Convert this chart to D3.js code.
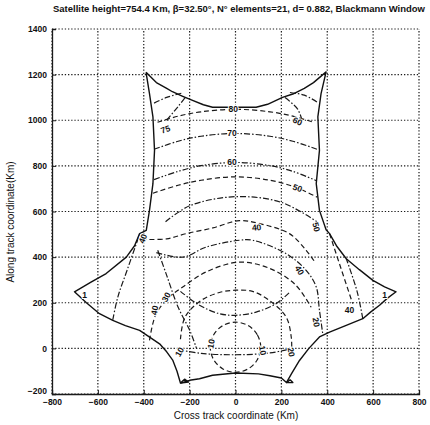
<!DOCTYPE html>
<html><head><meta charset="utf-8">
<script src="https://cdn.jsdelivr.net/npm/d3@7"></script>
<style>body{margin:0;background:#fff}svg{display:block}text{font-family:"Liberation Sans",Arial,sans-serif;fill:#111}</style>
</head><body><svg id="c" width="430" height="425"></svg>
<script>
const title = "Satellite height=754.4 Km, \u03b2=32.50\u00b0, N\u00b0 elements=21, d= 0.882, Blackmann Window";
const xLabel = "Cross track coordinate (Km)";
const yLabel = "Along track coordinate(Km)";
const xTicks = [-800,-600,-400,-200,0,200,400,600,800];
const yTicks = [-200,0,200,400,600,800,1000,1200,1400];

// coverage boundary (solid)
const boundary = [[-390,1210],[-345,1165],[-300,1140],[-275,1125],[-230,1105],[-190,1088],[-140,1068],[-100,1057],[0,1057],[90,1057],[140,1070],[205,1100],[250,1115],[300,1140],[340,1165],[395,1212],
[373,1117],[359,1015],[366,868],[352,722],[366,605],[395,520],[410,503],[440,450],[483,393],[540,345],[599,298],[650,270],[700,248],
[660,218],[628,189],[590,160],[555,130],[480,100],[410,71],[366,50],[320,0],[279,-53],[245,-110],[222,-150],
[200,-130],[150,-120],[100,-112],[0,-108],[-100,-118],[-157,-133],[-200,-140],[-240,-152],
[-255,-100],[-273,-53],[-300,-15],[-331,20],[-418,79],[-480,100],[-535,123],[-593,152],[-650,200],[-702,248],
[-630,290],[-564,328],[-476,400],[-440,450],[-418,503],[-389,517],[-375,605],[-360,722],[-353,868],[-360,1015],[-375,1117],[-390,1210]];
const tipBL = [[-240,-152],[-222,-135],[-205,-148],[-240,-152]];
const tipBR = [[222,-150],[238,-138],[250,-150],[222,-150]];

// contour lines
const c80 = [[-340,991],[-250,1018],[-150,1037],[0,1048],[150,1037],[250,1018],[340,991]];
const c70 = [[-355,873],[-250,908],[-150,930],[0,942],[150,930],[250,908],[355,873]];
const c60 = [[-355,740],[-250,776],[-150,801],[0,815],[150,801],[250,776],[355,734]];
const c50 = [[-360,680],[-250,715],[-150,737],[0,752],[150,737],[270,703],[355,663]];
const c45 = [[-305,555],[-200,625],[0,665],[200,640],[355,555]];
const c40 = [[-410,478],[-300,480],[-215,503],[-99,528],[17,560],[105,547],[235,503],[308,430],[345,380]];
const c35 = [[-345,420],[-230,400],[-128,444],[17,474],[75,474],[221,415],[308,342],[352,269],[366,167],[380,66]];
const c30 = [[-375,35],[-346,152],[-288,225],[-230,269],[-128,335],[17,378],[150,350],[260,280],[330,180]];
const c20 = [[-240,40],[-220,137],[-150,210],[-70,245],[0,255],[74,250],[148,210],[221,137],[243,50],[245,-10]];
const c15 = [[-240,250],[-157,189],[-70,152],[0,145],[90,159],[177,196],[240,250]];
const c10 = [[110,5],[95,60],[55,100],[0,115],[-55,100],[-95,60],[-110,5],[-95,-50],[-55,-90],[0,-105],[55,-90],[95,-50],[110,5]];
const c05 = [[-250,-5],[-150,-22],[0,-28],[150,-20],[250,0]];
const cTL1 = [[-355,1075],[-300,1100],[-230,1120]];
const cTL2 = [[-300,1000],[-252,1058],[-215,1105]];
const cTR1 = [[355,1080],[300,1110],[235,1122]];
const cTR2 = [[290,1000],[270,1050],[215,1100]];
const cL1 = [[-535,125],[-513,225],[-470,350],[-418,500]];
const cL2 = [[-339,430],[-300,320],[-250,180],[-200,80],[-170,0]];
const cR1 = [[555,130],[530,250],[483,393]];
const cR2 = [[410,503],[460,350],[511,196]];
const DASH = "5,3", DDOT = "6,2,1.5,2", DDD = "6,2,1.5,2,1.5,2";
const contours = [
  {pts:c80, dash:DASH},{pts:c70, dash:DDOT},{pts:c60, dash:DDD},
  {pts:c50, dash:DASH},{pts:c45, dash:DDOT},{pts:c40, dash:DASH},
  {pts:c35, dash:DDOT},{pts:c30, dash:DASH},{pts:c20, dash:DASH},
  {pts:c15, dash:DDOT},{pts:c10, dash:DASH, closed:true},{pts:c05, dash:DDOT},
  {pts:cTL1, dash:DDOT},{pts:cTL2, dash:DDOT},{pts:cTR1, dash:DDOT},{pts:cTR2, dash:DDOT},
  {pts:cL1, dash:DDOT},{pts:cL2, dash:DDOT},{pts:cR1, dash:DDOT},{pts:cR2, dash:DASH}
];
// contour labels: text, x, y, rotation
const labels = [["80",-10,1050,0],["75",-305,960,-20],["60",270,995,25],["70",-15,942,0],["60",-15,815,0],
["50",270,703,20],["40",92,530,-5],["40",-404,481,-70],["50",352,532,75],["30",-302,225,-60],["40",-353,167,-80],
["40",279,342,60],["20",352,115,80],["40",497,167,0],["1",650,232,0],["1",-658,232,0],["10",-106,20,-80],["10",119,-9,80],
["20",243,-16,80],["10",-244,-16,-60]];

const x = d3.scaleLinear().domain([-800,800]).range([52,419]);
const y = d3.scaleLinear().domain([-200,1400]).range([394,29]);
const svg = d3.select("#c");
const INK = "#1a1a1a";

// grid
const g = svg.append("g");
g.selectAll("line.gx").data(xTicks).join("line").attr("x1",d=>x(d)).attr("x2",d=>x(d)).attr("y1",y(-200)).attr("y2",y(1400))
 .attr("stroke",INK).attr("stroke-width",1.2).attr("stroke-dasharray","1.3,1.9");
g.selectAll("line.gy").data(yTicks).join("line").attr("y1",d=>y(d)).attr("y2",d=>y(d)).attr("x1",x(-800)).attr("x2",x(800))
 .attr("stroke",INK).attr("stroke-width",1.2).attr("stroke-dasharray","1.3,1.9");

// axes
const ax = svg.append("g").attr("transform",`translate(0,${y(-200)})`)
 .call(d3.axisBottom(x).tickValues(xTicks).tickSize(-4).tickPadding(5).tickFormat(d3.format("d")));
const ay = svg.append("g").attr("transform",`translate(${x(-800)},0)`)
 .call(d3.axisLeft(y).tickValues(yTicks).tickSize(-4).tickPadding(5).tickFormat(d3.format("d")));
[ax,ay].forEach(a=>{a.select(".domain").attr("stroke",INK).attr("stroke-width",1.3);
 a.selectAll(".tick line").attr("stroke",INK);
 a.selectAll("text").style("font-size","8.5px").style("font-weight","bold").style("font-family","Liberation Sans, Arial, sans-serif").attr("fill",INK);});
ay.select(".tick:first-of-type text").attr("dy","-0.1em");

// contour lines
const line = d3.line().x(d=>x(d[0])).y(d=>y(d[1])).curve(d3.curveCatmullRom);
const lineClosed = d3.line().x(d=>x(d[0])).y(d=>y(d[1])).curve(d3.curveCatmullRomClosed);
svg.append("g").selectAll("path").data(contours).join("path")
 .attr("d",d=>d.closed?lineClosed(d.pts.slice(0,-1)):line(d.pts))
 .attr("fill","none").attr("stroke",INK).attr("stroke-width",1.2).attr("stroke-dasharray",d=>d.dash);

// boundary
const lin = d3.line().x(d=>x(d[0])).y(d=>y(d[1]));
svg.append("g").selectAll("path").data([boundary,tipBL,tipBR]).join("path").attr("d",lin)
 .attr("fill","none").attr("stroke","#111").attr("stroke-width",1.4).attr("stroke-linejoin","round");

// labels
svg.append("g").selectAll("text").data(labels).join("text")
 .attr("transform",d=>`translate(${x(d[1])},${y(d[2])}) rotate(${d[3]})`)
 .attr("text-anchor","middle").attr("dy","0.35em")
 .style("font-size","8.5px").style("font-weight","bold")
 .attr("stroke","#fff").attr("stroke-width",2).attr("paint-order","stroke")
 .text(d=>d[0]);

// title and axis labels
svg.append("text").attr("x",53).attr("y",12).attr("textLength",372).attr("lengthAdjust","spacingAndGlyphs")
 .style("font-size","9.5px").style("font-weight","bold").text(title);
svg.append("text").attr("x",236).attr("y",419).attr("text-anchor","middle").style("font-size","10px").text(xLabel);
svg.append("text").attr("transform","translate(14,222) rotate(-90)").attr("text-anchor","middle").style("font-size","10px").text(yLabel);
</script></body></html>
